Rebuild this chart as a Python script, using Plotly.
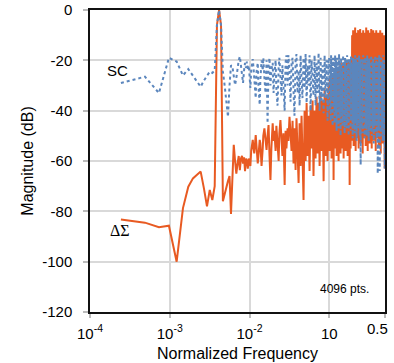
import math
import plotly.graph_objects as go

# ---------------- data ----------------
N_POINTS = 4096  # FFT length -> normalized frequency = bin / N_POINTS

# FFT bin indices (three segments)
bins_low = [1, 2, 3, 4, 5, 6, 7, 8, 9, 10, 11, 12, 13, 14, 15, 16, 17, 18, 19, 20,
            21, 22, 23, 24, 25, 26, 27, 28, 29, 30, 31, 32, 33, 34, 35, 36, 37, 38, 39]
bins_mid = [40, 41, 42, 43, 45, 46, 47, 49, 50, 52,
            53, 55, 56, 58, 60, 61, 63, 65, 67, 69,
            71, 73, 75, 77, 80, 82, 84, 87, 89, 92,
            95, 97, 100, 103, 106, 109, 113, 116, 119, 123,
            126, 130, 134, 138, 142, 146, 150, 155, 159, 164,
            169, 174, 179, 184, 189, 195, 201, 207, 213, 219,
            225, 232, 239, 246, 253, 260, 268, 276, 284, 292,
            301, 310, 319, 328, 338, 348, 358, 368, 379, 390,
            402]
bins_high = [408, 414, 420, 426, 432, 438, 445, 451, 458, 464,
             471, 478, 485, 492, 499, 506, 514, 521, 529, 536,
             544, 552, 560, 568, 577, 585, 594, 602, 611, 620,
             629, 638, 648, 657, 667, 676, 686, 696, 706, 717,
             727, 738, 748, 759, 770, 782, 793, 805, 816, 828,
             840, 853, 865, 878, 890, 903, 917, 930, 944, 957,
             971, 986, 1000, 1014, 1029, 1044, 1060, 1075, 1091, 1107,
             1123, 1139, 1156, 1173, 1190, 1207, 1225, 1243, 1261, 1279,
             1298, 1317, 1336, 1356, 1375, 1395, 1416, 1436, 1457, 1479,
             1500, 1522, 1544, 1567, 1590, 1613, 1636, 1660, 1684, 1709,
             1734, 1759, 1785, 1811, 1837, 1864, 1891, 1919, 1947, 1975,
             2004, 2033, 2048]

# SC spectrum (dB)
sc_low = [-29, -26.5, -33, -19, -20.5, -26, -23.5, -26, -28.5, -30.5,
          -28, -26, -24.5, -25, -24, -6, 0, -6, -24.5, -30,
          -38, -42.5, -30, -22, -22.5, -26, -29.8, -27, -22, -20,
          -18.5, -22, -26, -29, -24, -21, -23, -20.5, -24]
sc_mid = [-22, -26, -31, -24, -19.5, -23, -28, -35, -25, -21,
          -30, -37.7, -28, -20, -24, -19, -27, -33, -20, -45,
          -22, -19, -30, -24, -21, -33, -26, -20, -31, -38,
          -23, -19, -26, -34, -22, -28, -40, -21, -18, -30,
          -17.9, -25, -36.4, -21, -19, -32, -42, -20, -17.5, -33,
          -24, -38, -18, -28, -35, -19, -31, -17.5, -37, -22,
          -30, -18, -40, -20, -26, -34, -18, -38, -21, -33,
          -17, -40, -19, -36, -22, -41, -18, -35, -20, -44,
          -19]
sc_high = [-19, -40, -22, -44, -18, -36, -21, -46, -19, -38,
           -23, -45, -18, -42, -20, -48, -19, -39, -22, -47,
           -17.5, -43, -21, -50, -19, -41, -23, -46, -18, -44,
           -20, -49, -19, -42, -22, -47, -18, -45, -21, -50,
           -19, -43, -20, -48, -18, -44, -22, -51, -19, -46,
           -21, -49, -18, -44, -20, -52, -19, -47, -22, -45,
           -18, -50, -20, -61.5, -19, -46, -21, -49, -18, -45,
           -20, -51, -19, -47, -22, -50, -18, -46, -20, -52,
           -19, -48, -21, -45, -18, -50, -20, -47, -19, -53,
           -21, -46, -18, -49, -20, -51, -19, -65, -21, -48,
           -18, -64, -20, -50, -19, -47, -21, -52, -18, -49,
           -20, -63, -22]

# Delta-Sigma spectrum (dB)
ds_low = [-83.2, -84.5, -86.3, -85.7, -100, -78.7, -70.2, -66.9, -65.5, -64.2,
          -71, -78, -71.5, -75.5, -70, -6, 0, -6, -76, -73,
          -70, -68, -66, -81, -67, -53.6, -60, -65, -61, -58,
          -63.6, -59, -58, -61, -58.5, -64, -59, -60, -63]
ds_mid = [-59, -61, -62, -56, -51.6, -55, -57, -49.7, -54, -61,
          -58, -51.6, -53, -62, -55, -50, -47, -53, -55.6, -50,
          -45.7, -58, -67.5, -55, -45, -52, -48, -56, -46, -53,
          -60, -49, -43.7, -51, -58, -49, -69.5, -48, -55, -47,
          -52, -42.4, -50, -56, -44, -61, -47, -63.6, -43, -58,
          -68.7, -45, -62, -42, -55, -75.5, -40, -60, -37, -58,
          -42, -64, -38, -55, -36, -66, -40, -59, -34.5, -57,
          -37, -62, -33, -56, -36, -68, -31, -58, -34, -60,
          -30.5]
ds_high = [-29, -56, -27, -52, -31, -59, -26, -54, -29, -67.5,
           -25, -55, -28, -51, -24, -58, -27, -53, -23, -60,
           -26, -50, -22, -57, -25, -52, -21, -55, -24, -59,
           -22, -51, -25, -56, -21, -53, -23, -58, -20, -54,
           -22, -69.5, -21, -55, -24, -52, -10, -50, -8, -54,
           -11, -48, -7, -56, -9, -51, -12, -47, -8, -55,
           -10, -50, -7.5, -53, -11, -49, -9, -57, -8, -51,
           -12, -48, -9, -54, -7, -50, -10, -56, -8, -49,
           -11, -53, -9, -47, -7.5, -55, -10, -50, -8, -52,
           -12, -49, -9, -56, -8, -51, -11, -48, -9, -54,
           -10, -50, -8, -57, -11, -49, -9, -53, -12, -51,
           -10, -63, -20]

x_ticks = [1e-4, 1e-3, 1e-2, 1e-1, 0.5]
x_ticktext = ["10<sup>-4</sup>", "10<sup>-3</sup>", "10<sup>-2</sup>", "10", ""]
x_last_label = "0.5"
y_ticks = [-120, -100, -80, -60, -40, -20, 0]
y_ticktext = ["-120", "-100", "-80", "-60", "-40", "-20", "0"]

# ---------------- figure ----------------
bins = bins_low + bins_mid + bins_high
freq = [k / N_POINTS for k in bins]
sc = sc_low + sc_mid + sc_high
ds = ds_low + ds_mid + ds_high

ORANGE = "#e85a22"
BLUE = "#5b86bd"
GRID = "#d9d9d9"

fig = go.Figure()
fig.add_trace(go.Scatter(x=freq, y=ds, mode="lines", name="ΔΣ",
                         line=dict(color=ORANGE, width=2)))
fig.add_trace(go.Scatter(x=freq, y=sc, mode="lines", name="SC",
                         line=dict(color=BLUE, width=2, dash="dot")))

fig.add_annotation(x=-3.655, y=-24.2, text="SC", showarrow=False,
                   font=dict(family="Liberation Sans, Arial", size=15, color="#000"))
fig.add_annotation(x=-3.628, y=-87.6, text="ΔΣ", showarrow=False,
                   font=dict(family="Liberation Serif, Times New Roman", size=16, color="#000"))
fig.add_annotation(x=-0.815, y=-110.8, text="4096 pts.", showarrow=False,
                   font=dict(family="Liberation Sans, Arial", size=12, color="#000"))
# last x tick label, kept inside the page like in the reference
fig.add_annotation(x=math.log10(x_ticks[-1]), xref="x", y=0, yref="paper",
                   yanchor="middle", yshift=-16, xanchor="right", xshift=5,
                   text=x_last_label, showarrow=False,
                   font=dict(family="Liberation Sans, Arial", size=15, color="#000"))

fig.update_layout(
    width=394, height=363,
    margin=dict(l=90, r=9, t=10, b=51, autoexpand=False),
    plot_bgcolor="white", paper_bgcolor="white",
    showlegend=False,
    font=dict(family="Liberation Sans, Arial", color="#000", size=15),
)
fig.update_xaxes(
    type="log", range=[-4, math.log10(0.5)],
    tickvals=x_ticks, ticktext=x_ticktext,
    showgrid=True, gridcolor=GRID, gridwidth=1.5,
    showline=True, linecolor="#111", linewidth=1.5, mirror=True,
    ticks="outside", ticklen=4, tickcolor="#bbbbbb", tickwidth=1.5,
    ticklabelstandoff=3, ticklabeloverflow="allow",
    tickfont=dict(size=15), automargin=False,
    title=dict(text="Normalized Frequency", font=dict(size=16), standoff=7),
    zeroline=False,
)
fig.update_yaxes(
    range=[-120, 0], tickvals=y_ticks, ticktext=y_ticktext,
    showgrid=True, gridcolor=GRID, gridwidth=1.5,
    showline=True, linecolor="#111", linewidth=1.5, mirror=True,
    ticks="outside", ticklen=5, tickcolor="#bbbbbb", tickwidth=1.5,
    ticklabelstandoff=8, ticklabeloverflow="allow", automargin=False,
    tickfont=dict(size=15),
    title=dict(text="Magnitude (dB)", font=dict(size=16), standoff=5),
    zeroline=False,
)

fig.write_html("out.html", config={"displayModeBar": False},
               post_script="document.body.style.margin='0';")
